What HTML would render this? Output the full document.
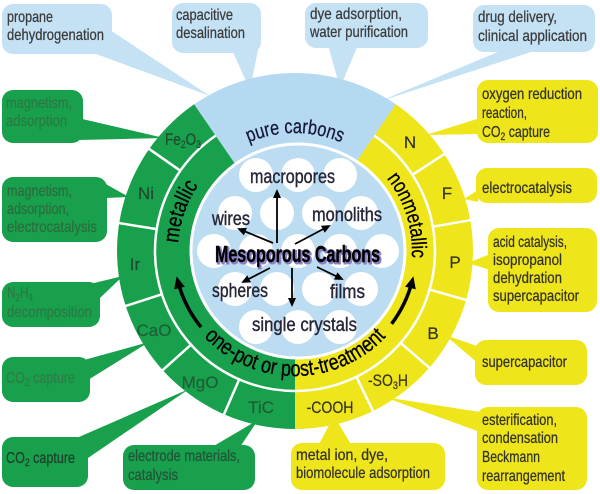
<!DOCTYPE html>
<html>
<head>
<meta charset="utf-8">
<style>
html,body{margin:0;padding:0;background:#fff;}
svg{display:block;}
text{font-family:"Liberation Sans Narrow","Liberation Sans",Arial,sans-serif;}
</style>
</head>
<body>
<svg width="600" height="494" viewBox="0 0 600 494" xmlns="http://www.w3.org/2000/svg">
<defs>
  <marker id="sh" markerUnits="userSpaceOnUse" markerWidth="9" markerHeight="8" refX="7" refY="4" orient="auto">
    <path d="M0,0 L9,4 L0,8 z" fill="#000"/>
  </marker>
  <marker id="bh" markerUnits="userSpaceOnUse" markerWidth="12" markerHeight="11" refX="8" refY="5.5" orient="auto">
    <path d="M0,0 L12,5.5 L0,11 z" fill="#000"/>
  </marker>
  <clipPath id="inner"><circle cx="298" cy="251" r="106"/></clipPath>
  <path id="pcPath" d="M219.2,160.6 A118,118 0 0,1 370.8,160.6"/>
  <path id="metPath" d="M179.8,271.3 A117,117 0 0,1 216.7,164.1"/>
  <path id="nonPath" d="M377.7,168.3 A117,117 0 0,1 410.2,271.3"/>
  <path id="onePath" d="M186.7,313.5 A125,125 0 0,0 403.3,313.5"/>
</defs>

<!-- ===== Callout tails (under ring) ===== -->
<g fill="#c5e2f5">
  <polygon points="110,30 96,54 210,96"/>
  <polygon points="232,50 258,50 250,90"/>
  <polygon points="328,45 358,45 340,88"/>
  <polygon points="505,49 540,49 378,102"/>
</g>
<g fill="#18a04c">
  <polygon points="78,118 78,140 164,138"/>
  <polygon points="95,178 106,198 129,197"/>
  <polygon points="90,284 100,298 123,276"/>
  <polygon points="84,360 88,380 149,342"/>
  <polygon points="72,440 88,458 189,389"/>
  <polygon points="212,447 240,447 258,420"/>
</g>
<g fill="#efe51b">
  <polygon points="480,118 480,134 426,135"/>
  <polygon points="478,190 478,202 464,199"/>
  <polygon points="490,254 490,270 468,263"/>
  <polygon points="480,347 480,365 445,335"/>
  <polygon points="384,397 480,412 480,432"/>
  <polygon points="318,446 352,446 334,416"/>
</g>

<!-- ===== Callout boxes ===== -->
<g fill="#c5e2f5">
  <rect x="2" y="4" width="110" height="50" rx="11"/>
  <rect x="172" y="3" width="89" height="50" rx="11"/>
  <rect x="305" y="3" width="123" height="45" rx="11"/>
  <rect x="473" y="5" width="122" height="47" rx="11"/>
</g>
<g fill="#18a04c">
  <rect x="2" y="90" width="81" height="53" rx="11"/>
  <rect x="2" y="177" width="105" height="65" rx="11"/>
  <rect x="2" y="282" width="98" height="45" rx="11"/>
  <rect x="2" y="357" width="88" height="45" rx="11"/>
  <rect x="2" y="437" width="86" height="50" rx="11"/>
  <rect x="123" y="445" width="132" height="45" rx="11"/>
</g>
<g fill="#efe51b">
  <rect x="477" y="80" width="121" height="63" rx="11"/>
  <rect x="476" y="168" width="121" height="35" rx="11"/>
  <rect x="488" y="228" width="109" height="84" rx="11"/>
  <rect x="475" y="340" width="112" height="45" rx="11"/>
  <rect x="477" y="407" width="110" height="83" rx="11"/>
  <rect x="291" y="443" width="154" height="47" rx="11"/>
</g>

<!-- ===== Callout texts ===== -->
<g font-size="16" fill="#3a3a3a" stroke="#3a3a3a" stroke-width="0.25">
  <text x="7" y="22" textLength="46" lengthAdjust="spacingAndGlyphs">propane</text>
  <text x="7" y="40" textLength="97" lengthAdjust="spacingAndGlyphs">dehydrogenation</text>
  <text x="176" y="20" textLength="57" lengthAdjust="spacingAndGlyphs">capacitive</text>
  <text x="176" y="38" textLength="69" lengthAdjust="spacingAndGlyphs">desalination</text>
  <text x="310" y="19" textLength="92" lengthAdjust="spacingAndGlyphs">dye adsorption,</text>
  <text x="310" y="37" textLength="98" lengthAdjust="spacingAndGlyphs">water purification</text>
  <text x="478" y="22" textLength="79" lengthAdjust="spacingAndGlyphs">drug delivery,</text>
  <text x="478" y="41" textLength="109" lengthAdjust="spacingAndGlyphs">clinical application</text>
</g>
<g font-size="16" stroke-width="0.25">
  <text x="6" y="108" fill="#2b7a44" stroke="#2b7a44" textLength="66" lengthAdjust="spacingAndGlyphs">magnetism,</text>
  <text x="6" y="126" fill="#2b7a44" stroke="#2b7a44" textLength="61" lengthAdjust="spacingAndGlyphs">adsorption</text>
  <text x="7" y="196" fill="#2a6e3e" stroke="#2a6e3e" textLength="65" lengthAdjust="spacingAndGlyphs">magnetism,</text>
  <text x="7" y="214" fill="#2a6e3e" stroke="#2a6e3e" textLength="62" lengthAdjust="spacingAndGlyphs">adsorption,</text>
  <text x="7" y="232" fill="#2a6e3e" stroke="#2a6e3e" textLength="90" lengthAdjust="spacingAndGlyphs">electrocatalysis</text>
  <text x="7" y="298" fill="#2d7a44" stroke="#2d7a44" textLength="26" lengthAdjust="spacingAndGlyphs">N<tspan font-size="11" dy="3">2</tspan><tspan dy="-3">H</tspan><tspan font-size="11" dy="3">4</tspan></text>
  <text x="7" y="317" fill="#2d7a44" stroke="#2d7a44" textLength="85" lengthAdjust="spacingAndGlyphs">decomposition</text>
  <text x="6" y="383" fill="#2f7d46" stroke="#2f7d46" textLength="69" lengthAdjust="spacingAndGlyphs">CO<tspan font-size="11" dy="3">2</tspan><tspan dy="-3"> capture</tspan></text>
  <text x="6" y="463" fill="#1d3f29" stroke="#1d3f29" textLength="69" lengthAdjust="spacingAndGlyphs">CO<tspan font-size="11" dy="3">2</tspan><tspan dy="-3"> capture</tspan></text>
  <text x="128" y="461" fill="#22553a" stroke="#22553a" textLength="112" lengthAdjust="spacingAndGlyphs">electrode materials,</text>
  <text x="128" y="480" fill="#22553a" stroke="#22553a" textLength="50" lengthAdjust="spacingAndGlyphs">catalysis</text>
</g>
<g font-size="16" fill="#333326" stroke="#333326" stroke-width="0.25">
  <text x="482" y="99" textLength="100" lengthAdjust="spacingAndGlyphs">oxygen reduction</text>
  <text x="482" y="118" textLength="45" lengthAdjust="spacingAndGlyphs">reaction,</text>
  <text x="482" y="137" textLength="68" lengthAdjust="spacingAndGlyphs">CO<tspan font-size="11" dy="3">2</tspan><tspan dy="-3"> capture</tspan></text>
  <text x="482" y="193" textLength="90" lengthAdjust="spacingAndGlyphs">electrocatalysis</text>
  <text x="493" y="247" textLength="74" lengthAdjust="spacingAndGlyphs">acid catalysis,</text>
  <text x="493" y="265" textLength="69" lengthAdjust="spacingAndGlyphs">isopropanol</text>
  <text x="493" y="283" textLength="69" lengthAdjust="spacingAndGlyphs">dehydration</text>
  <text x="493" y="301" textLength="86" lengthAdjust="spacingAndGlyphs">supercapacitor</text>
  <text x="482" y="367" textLength="85" lengthAdjust="spacingAndGlyphs">supercapacitor</text>
  <text x="482" y="425" textLength="75" lengthAdjust="spacingAndGlyphs">esterification,</text>
  <text x="482" y="443" textLength="76" lengthAdjust="spacingAndGlyphs">condensation</text>
  <text x="482" y="462" textLength="58" lengthAdjust="spacingAndGlyphs">Beckmann</text>
  <text x="482" y="481" textLength="83" lengthAdjust="spacingAndGlyphs">rearrangement</text>
  <text x="296" y="460" textLength="92" lengthAdjust="spacingAndGlyphs">metal ion, dye,</text>
  <text x="296" y="478" textLength="134" lengthAdjust="spacingAndGlyphs">biomolecule adsorption</text>
</g>

<!-- ===== Ring ===== -->
<path d="M295,251 L295,429 A178,178 0 0,1 194.2,104.3 Z" fill="#18a04c"/>
<path d="M295,251 L395.8,104.3 A178,178 0 0,1 295,429 Z" fill="#efe51b"/>
<path d="M295,251 L194.2,104.3 A178,178 0 0,1 395.8,104.3 Z" fill="#b4d9f1"/>

<!-- mid/outer separator arc -->
<path d="M374.3,135.6 A140,140 0 1,1 215.7,135.6" fill="none" stroke="#fff" stroke-width="2.5"/>

<!-- radial separators -->
<g stroke="#fff" stroke-width="2.5">
  <line x1="180.3" y1="170.7" x2="147.5" y2="147.8"/>
  <line x1="156.7" y1="229.1" x2="117.2" y2="222.8"/>
  <line x1="161.8" y1="294.3" x2="123.8" y2="306.6"/>
  <line x1="191.0" y1="344.7" x2="161.2" y2="371.4"/>
  <line x1="239.2" y1="379.4" x2="223.2" y2="416.1"/>
  <line x1="412.4" y1="174.8" x2="446.0" y2="153.0"/>
  <line x1="432.9" y1="226.7" x2="472.3" y2="219.8"/>
  <line x1="429.6" y1="289.6" x2="468.0" y2="300.6"/>
  <line x1="400.7" y1="342.9" x2="430.8" y2="369.1"/>
  <line x1="356.4" y1="376.8" x2="373.9" y2="412.8"/>
</g>

<!-- outer ring labels -->
<g font-size="17" text-anchor="middle" fill="#1f4a2c" stroke="#1f4a2c" stroke-width="0.2">
  <text x="183" y="145" textLength="36" lengthAdjust="spacingAndGlyphs">Fe<tspan font-size="11" dy="3">2</tspan><tspan dy="-3">O</tspan><tspan font-size="11" dy="3">3</tspan></text>
  <text x="146" y="199">Ni</text>
  <text x="135" y="270">Ir</text>
  <text x="154" y="336" fill="#1f5e35" stroke="#1f5e35">CaO</text>
  <text x="200" y="388" fill="#1f5e35" stroke="#1f5e35">MgO</text>
  <text x="261" y="413" fill="#1f5e35" stroke="#1f5e35">TiC</text>
</g>
<g font-size="17" text-anchor="middle" fill="#33331f" stroke="#33331f" stroke-width="0.2">
  <text x="410" y="148">N</text>
  <text x="447" y="199">F</text>
  <text x="455" y="268">P</text>
  <text x="433" y="339">B</text>
  <text x="388" y="386" textLength="40" lengthAdjust="spacingAndGlyphs">-SO<tspan font-size="11" dy="3">3</tspan><tspan dy="-3">H</tspan></text>
  <text x="330" y="413" textLength="47" lengthAdjust="spacingAndGlyphs">-COOH</text>
</g>

<!-- ring texts -->
<text font-size="20" fill="#15183a" stroke="#15183a" stroke-width="0.3"><textPath href="#pcPath" startOffset="50%" text-anchor="middle" textLength="95" lengthAdjust="spacingAndGlyphs">pure carbons</textPath></text>
<text font-size="22" fill="#000" stroke="#000" stroke-width="0.3"><textPath href="#metPath" startOffset="50%" text-anchor="middle" textLength="62" lengthAdjust="spacingAndGlyphs">metallic</textPath></text>
<text font-size="21" fill="#000" stroke="#000" stroke-width="0.3"><textPath href="#nonPath" startOffset="50%" text-anchor="middle" textLength="85" lengthAdjust="spacingAndGlyphs">nonmetallic</textPath></text>
<text font-size="22" fill="#000" stroke="#000" stroke-width="0.3"><textPath href="#onePath" startOffset="50%" text-anchor="middle" textLength="204" lengthAdjust="spacingAndGlyphs">one-pot or post-treatment</textPath></text>

<!-- curved arrows -->
<path d="M201,327.1 A121,121 0 0,1 177.6,280.3" fill="none" stroke="#000" stroke-width="3.5" marker-end="url(#bh)"/>
<path d="M391.6,323.8 A121,121 0 0,0 412.4,280.3" fill="none" stroke="#000" stroke-width="3.5" marker-end="url(#bh)"/>

<!-- ===== Inner circle ===== -->
<circle cx="298" cy="251" r="107" fill="#bcdcf2" stroke="#fff" stroke-width="3"/>
<g clip-path="url(#inner)" fill="#fff">
  <circle cx="256" cy="175" r="17"/><circle cx="298" cy="175" r="17"/><circle cx="340" cy="175" r="17"/>
  <circle cx="235" cy="213" r="17"/><circle cx="277" cy="213" r="17"/><circle cx="319" cy="213" r="17"/><circle cx="361" cy="213" r="17"/>
  <circle cx="214" cy="251" r="17"/><circle cx="256" cy="251" r="17"/><circle cx="298" cy="251" r="17"/><circle cx="340" cy="251" r="17"/><circle cx="382" cy="251" r="17"/>
  <circle cx="235" cy="289" r="17"/><circle cx="277" cy="289" r="17"/><circle cx="319" cy="289" r="17"/><circle cx="361" cy="289" r="17"/>
  <circle cx="256" cy="327" r="17"/><circle cx="298" cy="327" r="17"/><circle cx="340" cy="327" r="17"/>
</g>

<!-- center arrows -->
<g stroke="#000" stroke-width="1.8" marker-end="url(#sh)">
  <line x1="277" y1="243" x2="277" y2="191"/>
  <line x1="273" y1="243" x2="239" y2="229"/>
  <line x1="295" y1="244" x2="329" y2="226"/>
  <line x1="292" y1="268" x2="292" y2="305"/>
  <line x1="270" y1="268" x2="243" y2="282"/>
  <line x1="317" y1="267" x2="342" y2="279"/>
</g>

<!-- center labels -->
<g font-size="19" fill="#26263a" stroke="#26263a" stroke-width="0.4">
  <text x="250" y="183" textLength="85" lengthAdjust="spacingAndGlyphs">macropores</text>
  <text x="212" y="225" textLength="38" lengthAdjust="spacingAndGlyphs">wires</text>
  <text x="312" y="221" textLength="70" lengthAdjust="spacingAndGlyphs">monoliths</text>
  <text x="212" y="297" textLength="56" lengthAdjust="spacingAndGlyphs">spheres</text>
  <text x="330" y="298" textLength="35" lengthAdjust="spacingAndGlyphs">films</text>
  <text x="252" y="331" textLength="105" lengthAdjust="spacingAndGlyphs">single crystals</text>
</g>
<text x="216.5" y="263.5" font-size="23" font-weight="bold" fill="#8a80c4" stroke="#8a80c4" stroke-width="2" textLength="165" lengthAdjust="spacingAndGlyphs">Mesoporous Carbons</text>
<text x="215" y="262" font-size="23" font-weight="bold" fill="#000" stroke="#000" stroke-width="0.4" textLength="165" lengthAdjust="spacingAndGlyphs">Mesoporous Carbons</text>
</svg>
</body>
</html>
